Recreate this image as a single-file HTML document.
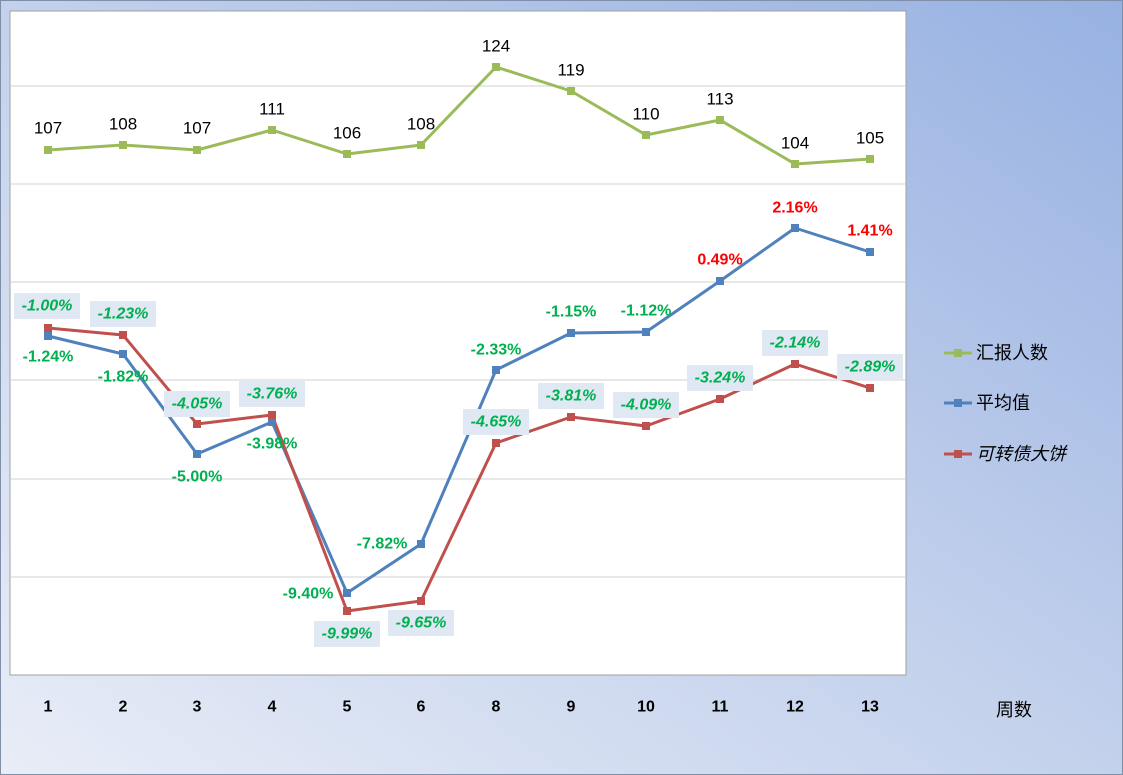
<!DOCTYPE html>
<html><head><meta charset="utf-8"><style>
html,body{margin:0;padding:0;}
body{width:1123px;height:775px;overflow:hidden;}
svg{display:block;font-family:"Liberation Sans","Noto Sans CJK SC",sans-serif;}
</style></head><body>
<svg width="1123" height="775" viewBox="0 0 1123 775">
<defs>
<linearGradient id="bg" x1="1" y1="0" x2="0" y2="1">
<stop offset="0" stop-color="#97b1e2"/>
<stop offset="0.5" stop-color="#c3d1ec"/>
<stop offset="1" stop-color="#e8edf7"/>
</linearGradient>
</defs>
<rect x="0.5" y="0.5" width="1122" height="774" fill="url(#bg)" stroke="#7f8fa8"/>
<rect x="10" y="11" width="896" height="664" fill="#fff" stroke="#a0a0a0"/>
<g stroke="#d0d0d0" stroke-width="1">
<line x1="10" x2="906" y1="86" y2="86"/><line x1="10" x2="906" y1="184" y2="184"/>
<line x1="10" x2="906" y1="282" y2="282"/><line x1="10" x2="906" y1="380" y2="380"/>
<line x1="10" x2="906" y1="479" y2="479"/><line x1="10" x2="906" y1="577" y2="577"/>
</g>
<g fill="none" stroke-width="3" stroke-linejoin="round">
<polyline stroke="#9bbb59" points="48,150 123,145 197,150 272,130 347,154 421,145 496,67 571,91 646,135 720,120 795,164 870,159"/>
<polyline stroke="#4f81bd" points="48,336 123,354 197,454 272,422 347,593 421,544 496,370 571,333 646,332 720,281 795,228 870,252"/>
<polyline stroke="#c0504d" points="48,328 123,335 197,424 272,415 347,611 421,601 496,443 571,417 646,426 720,399 795,364 870,388"/>
</g>
<g fill="#9bbb59"><rect x="44" y="146" width="8" height="8"/><rect x="119" y="141" width="8" height="8"/><rect x="193" y="146" width="8" height="8"/><rect x="268" y="126" width="8" height="8"/><rect x="343" y="150" width="8" height="8"/><rect x="417" y="141" width="8" height="8"/><rect x="492" y="63" width="8" height="8"/><rect x="567" y="87" width="8" height="8"/><rect x="642" y="131" width="8" height="8"/><rect x="716" y="116" width="8" height="8"/><rect x="791" y="160" width="8" height="8"/><rect x="866" y="155" width="8" height="8"/></g>
<g fill="#4f81bd"><rect x="44" y="332" width="8" height="8"/><rect x="119" y="350" width="8" height="8"/><rect x="193" y="450" width="8" height="8"/><rect x="268" y="418" width="8" height="8"/><rect x="343" y="589" width="8" height="8"/><rect x="417" y="540" width="8" height="8"/><rect x="492" y="366" width="8" height="8"/><rect x="567" y="329" width="8" height="8"/><rect x="642" y="328" width="8" height="8"/><rect x="716" y="277" width="8" height="8"/><rect x="791" y="224" width="8" height="8"/><rect x="866" y="248" width="8" height="8"/></g>
<g fill="#c0504d"><rect x="44" y="324" width="8" height="8"/><rect x="119" y="331" width="8" height="8"/><rect x="193" y="420" width="8" height="8"/><rect x="268" y="411" width="8" height="8"/><rect x="343" y="607" width="8" height="8"/><rect x="417" y="597" width="8" height="8"/><rect x="492" y="439" width="8" height="8"/><rect x="567" y="413" width="8" height="8"/><rect x="642" y="422" width="8" height="8"/><rect x="716" y="395" width="8" height="8"/><rect x="791" y="360" width="8" height="8"/><rect x="866" y="384" width="8" height="8"/></g>
<g font-size="17" fill="#000" text-anchor="middle" dominant-baseline="central">
<text x="48" y="128">107</text><text x="123" y="124">108</text><text x="197" y="128">107</text><text x="272" y="109">111</text><text x="347" y="133">106</text><text x="421" y="124">108</text><text x="496" y="46">124</text><text x="571" y="70">119</text><text x="646" y="114">110</text><text x="720" y="99">113</text><text x="795" y="143">104</text><text x="870" y="138">105</text>
</g>
<g fill="#dfe8f3">
<rect x="14" y="293" width="66" height="26"/><rect x="90" y="301" width="66" height="26"/><rect x="164" y="391" width="66" height="26"/><rect x="239" y="381" width="66" height="26"/><rect x="314" y="621" width="66" height="26"/><rect x="388" y="610" width="66" height="26"/><rect x="463" y="409" width="66" height="26"/><rect x="538" y="383" width="66" height="26"/><rect x="613" y="392" width="66" height="26"/><rect x="687" y="365" width="66" height="26"/><rect x="762" y="330" width="66" height="26"/><rect x="837" y="354" width="66" height="26"/>
</g>
<g font-size="16" font-weight="bold" font-style="italic" fill="#00b050" text-anchor="middle" dominant-baseline="central">
<text x="47" y="306">-1.00%</text><text x="123" y="314">-1.23%</text><text x="197" y="404">-4.05%</text><text x="272" y="394">-3.76%</text><text x="347" y="634">-9.99%</text><text x="421" y="623">-9.65%</text><text x="496" y="422">-4.65%</text><text x="571" y="396">-3.81%</text><text x="646" y="405">-4.09%</text><text x="720" y="378">-3.24%</text><text x="795" y="343">-2.14%</text><text x="870" y="367">-2.89%</text>
</g>
<g font-size="16" font-weight="bold" fill="#00b050" text-anchor="middle" dominant-baseline="central">
<text x="48" y="357">-1.24%</text><text x="123" y="377">-1.82%</text><text x="197" y="477">-5.00%</text><text x="272" y="444">-3.98%</text><text x="308" y="594">-9.40%</text><text x="382" y="544">-7.82%</text><text x="496" y="350">-2.33%</text><text x="571" y="312">-1.15%</text><text x="646" y="311">-1.12%</text>
<text x="720" y="260" fill="#ff0000">0.49%</text><text x="795" y="208" fill="#ff0000">2.16%</text><text x="870" y="231" fill="#ff0000">1.41%</text>
</g>
<g font-size="16" font-weight="bold" fill="#000" text-anchor="middle" dominant-baseline="central">
<text x="48" y="707">1</text><text x="123" y="707">2</text><text x="197" y="707">3</text><text x="272" y="707">4</text><text x="347" y="707">5</text><text x="421" y="707">6</text><text x="496" y="707">8</text><text x="571" y="707">9</text><text x="646" y="707">10</text><text x="720" y="707">11</text><text x="795" y="707">12</text><text x="870" y="707">13</text>
</g>
<text x="1014" y="710" font-size="18" text-anchor="middle" dominant-baseline="central">周数</text>
<g stroke-width="3">
<line x1="944" x2="972" y1="353" y2="353" stroke="#9bbb59"/><rect x="954" y="349" width="8" height="8" fill="#9bbb59"/>
<line x1="944" x2="972" y1="403" y2="403" stroke="#4f81bd"/><rect x="954" y="399" width="8" height="8" fill="#4f81bd"/>
<line x1="944" x2="972" y1="454" y2="454" stroke="#c0504d"/><rect x="954" y="450" width="8" height="8" fill="#c0504d"/>
</g>
<g font-size="18" fill="#000" dominant-baseline="central">
<text x="976" y="353">汇报人数</text><text x="976" y="403">平均值</text><text x="976" y="454" font-style="italic">可转债大饼</text>
</g>
</svg>
</body></html>
